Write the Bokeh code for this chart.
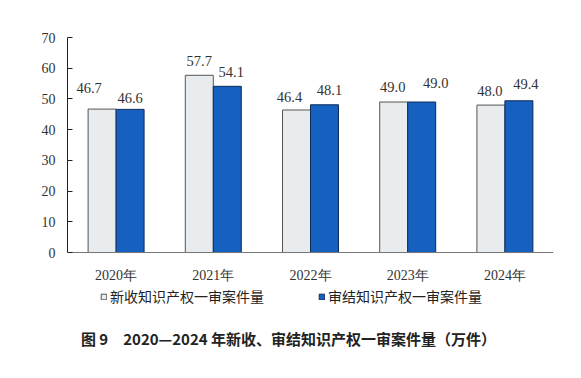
from bokeh.plotting import figure
from bokeh.models import ColumnDataSource, Legend, LegendItem, Label, FixedTicker
from bokeh.transform import dodge
from bokeh.core.properties import value
from bokeh.embed import file_html
from bokeh.resources import INLINE

years = ["2020年", "2021年", "2022年", "2023年", "2024年"]
received = [46.7, 57.7, 46.4, 49.0, 48.0]
concluded = [46.6, 54.1, 48.1, 49.0, 49.4]
received_labels = ["46.7", "57.7", "46.4", "49.0", "48.0"]
concluded_labels = ["46.6", "54.1", "48.1", "49.0", "49.4"]
y_ticks = [0, 10, 20, 30, 40, 50, 60, 70]
series_names = ["新收知识产权一审案件量", "审结知识产权一审案件量"]
caption = "图 9\u30002020—2024 年新收、审结知识产权一审案件量（万件）"

# label placement tweaks (pixels), as in the original layout
rec_dx = [-13, 0, -7, -1, -1]
rec_dy = [-21, -14, -13, -15, -14]
con_dx = [0, 4, 5, 14, 7]
con_dy = [-11, -14, -15, -19, -17]

SERIF = "Liberation Serif"
CJK = "Noto Sans CJK SC"

src = ColumnDataSource(dict(
    year=years, received=received, concluded=concluded,
    rl=received_labels, cl=concluded_labels,
    rdx=rec_dx, rdy=rec_dy, cdx=con_dx, cdy=con_dy,
))

# frame extends below zero so the legend and caption live inside it
p = figure(x_range=years, y_range=(-35.8, 70), frame_width=486, frame_height=325,
           output_backend="svg", toolbar_location=None,
           min_border_left=67, min_border_right=27, min_border_top=37,
           min_border_bottom=0)
p.outline_line_color = None
p.grid.visible = False
p.background_fill_color = "white"
p.x_range.range_padding = 0

bw = 0.288
r1 = p.vbar(x=dodge("year", -bw / 2, range=p.x_range), top="received", width=bw,
            source=src, fill_color="#E9ECEF", line_color="#555555", line_width=1)
r2 = p.vbar(x=dodge("year", bw / 2, range=p.x_range), top="concluded", width=bw,
            source=src, fill_color="#1660C0", line_color="#0E2C5A", line_width=1)

p.text(x=dodge("year", -bw / 2, range=p.x_range), y="received", text="rl",
       x_offset="rdx", y_offset="rdy", source=src,
       text_font=value(SERIF), text_font_size="14.5px", text_color="#333333",
       text_align="center", text_baseline="middle")
p.text(x=dodge("year", bw / 2, range=p.x_range), y="concluded", text="cl",
       x_offset="cdx", y_offset="cdy", source=src,
       text_font=value(SERIF), text_font_size="14.5px", text_color="#333333",
       text_align="center", text_baseline="middle")

ya = p.yaxis[0]
ya.ticker = FixedTicker(ticks=y_ticks)
ya.bounds = (0, 70)
ya.axis_line_color = "#222222"
ya.major_tick_line_color = "#222222"
ya.major_tick_in = 5
ya.major_tick_out = 0
ya.minor_tick_line_color = None
ya.major_label_text_font = SERIF
ya.major_label_text_font_size = "14px"
ya.major_label_text_color = "#333333"
ya.major_label_standoff = 12

xa = p.xaxis[0]
xa.fixed_location = 0
xa.axis_line_color = "#777777"
xa.major_tick_line_color = None
xa.minor_tick_line_color = None
xa.major_label_text_font = SERIF
xa.major_label_text_font_size = "14px"
xa.major_label_text_color = "#333333"
xa.major_label_standoff = 9

legend = Legend(items=[LegendItem(label=series_names[0], renderers=[r1]),
                       LegendItem(label=series_names[1], renderers=[r2])],
                orientation="horizontal", location=(33, 56),
                glyph_width=7, glyph_height=7, label_standoff=3, spacing=54,
                padding=0, margin=0, border_line_color=None,
                background_fill_alpha=0,
                label_text_font=CJK, label_text_font_size="14px",
                label_text_color="#222222")
p.add_layout(legend, "center")

cap = Label(x=221, y=24, x_units="screen", y_units="screen", text=caption,
            text_align="center", text_baseline="middle", text_font=CJK,
            text_font_size="15px", text_font_style="bold", text_color="#222222")
p.add_layout(cap, "center")

open("out.html", "w").write(file_html(p, INLINE))
